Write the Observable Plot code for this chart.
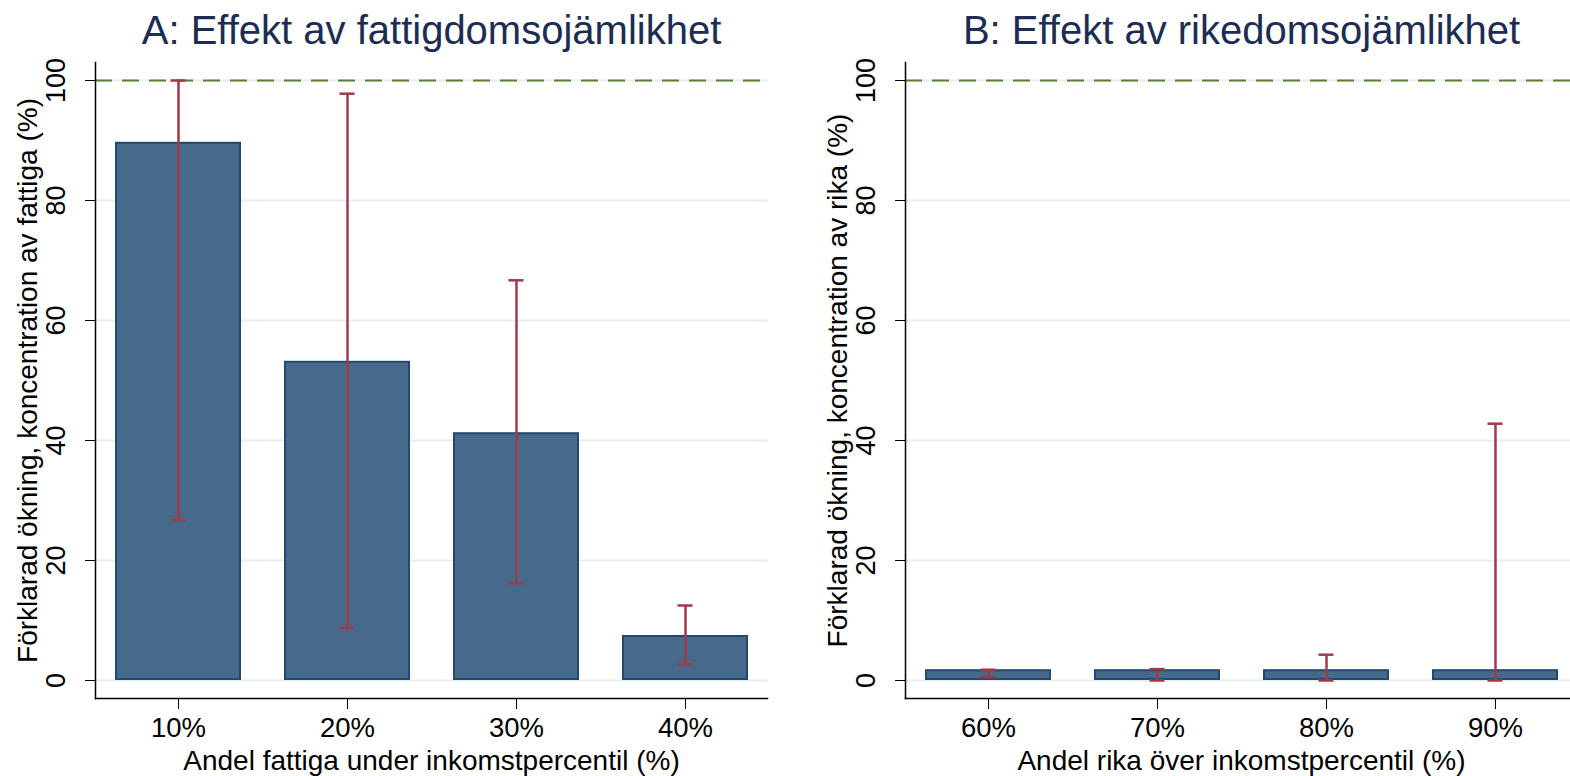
<!DOCTYPE html>
<html>
<head>
<meta charset="utf-8">
<script src="https://cdn.jsdelivr.net/npm/d3@7"></script>
<script src="https://cdn.jsdelivr.net/npm/@observablehq/plot@0.6"></script>
<style>
  html, body { margin: 0; padding: 0; background: #fff; }
  #wrap { display: flex; flex-wrap: nowrap; width: 1570px; height: 776px; overflow: hidden; }
  #wrap > * { flex-shrink: 0; }
</style>
</head>
<body>
<div id="wrap"></div>
<script>
// Panel A data
const titleA = "A: Effekt av fattigdomsojämlikhet";
const yLabelA = "Förklarad ökning, koncentration av fattiga (%)";
const xLabelA = "Andel fattiga under inkomstpercentil (%)";
const categoriesA = ["10%", "20%", "30%", "40%"];
const valuesA = [89.7, 53.2, 41.3, 7.5];
const lowA = [26.7, 8.7, 16.2, 2.7];
const highA = [100, 97.8, 66.7, 12.5];

// Panel B data
const titleB = "B: Effekt av rikedomsojämlikhet";
const yLabelB = "Förklarad ökning, koncentration av rika (%)";
const xLabelB = "Andel rika över inkomstpercentil (%)";
const categoriesB = ["60%", "70%", "80%", "90%"];
const valuesB = [1.8, 1.8, 1.8, 1.8];
const lowB = [0.6, 0, 0, 0];
const highB = [1.8, 1.9, 4.3, 42.8];

const yTicks = [0, 20, 40, 60, 80, 100];
const referenceLine = [100];

const BAR_FILL = "#476a8b";
const BAR_STROKE = "#1f4a73";
const ERR = "#a03a48";
const GRID = "#e6eef0";
const REF = "#5b7d2f";
const TITLE = "#1c2c55";
const FONT = "'Liberation Sans', Arial, Helvetica, sans-serif";

function panel({title, yLabel, xLabel, categories, values, low, high, width, marginLeft, marginRight}) {
  const rows = categories.map((c, i) => ({cat: c, value: values[i], lo: low[i], hi: high[i]}));
  return Plot.plot({
    width,
    height: 776,
    marginLeft,
    marginRight,
    marginTop: 62,
    marginBottom: 78,
    style: {fontFamily: FONT, fontSize: "27px", color: "#000", background: "#fff"},
    x: {domain: categories, paddingInner: 0.256, paddingOuter: 0.112, label: null},
    y: {domain: [-3, 103], label: null},
    marks: [
      Plot.ruleY(yTicks, {stroke: GRID, strokeWidth: 2}),
      Plot.ruleY(referenceLine, {stroke: REF, strokeWidth: 2, strokeDasharray: "17,10"}),
      Plot.barY(rows, {x: "cat", y: "value", fill: BAR_FILL, stroke: BAR_STROKE, strokeWidth: 2, inset: 1}),
      Plot.ruleX(rows, {x: "cat", y1: "lo", y2: "hi", stroke: ERR, strokeWidth: 2.5}),
      Plot.tickY(rows, {x: "cat", y: "hi", stroke: ERR, strokeWidth: 2.5, insetLeft: 55.5, insetRight: 55.5}),
      Plot.tickY(rows, {x: "cat", y: "lo", stroke: ERR, strokeWidth: 2.5, insetLeft: 55.5, insetRight: 55.5}),
      Plot.frame({anchor: "left", stroke: "#000", strokeWidth: 1.5}),
      Plot.frame({anchor: "bottom", stroke: "#000", strokeWidth: 1.5}),
      Plot.axisY({ticks: yTicks, tickSize: 10, tickFormat: () => "", label: null, stroke: "#000"}),
      Plot.text(yTicks, {y: d => d, text: d => String(d), frameAnchor: "left", dx: -39, rotate: -90, textAnchor: "middle", lineAnchor: "middle", fill: "#000", fontSize: 27}),
      Plot.axisX({tickSize: 11, tickPadding: 8, label: null, fontSize: 27.5, fill: "#000"}),
      Plot.text([yLabel], {text: d => d, frameAnchor: "left", dx: -67, rotate: -90, textAnchor: "middle", lineAnchor: "middle", fill: "#000", fontSize: 28}),
      Plot.text([xLabel], {text: d => d, frameAnchor: "bottom", dy: 63, textAnchor: "middle", lineAnchor: "middle", fill: "#000", fontSize: 28}),
      Plot.text([title], {text: d => d, frameAnchor: "top", dy: -31, textAnchor: "middle", lineAnchor: "middle", fill: TITLE, fontSize: 40})
    ]
  });
}

const wrap = document.getElementById("wrap");
wrap.appendChild(panel({title: titleA, yLabel: yLabelA, xLabel: xLabelA, categories: categoriesA, values: valuesA, low: lowA, high: highA, width: 790, marginLeft: 95, marginRight: 23}));
wrap.appendChild(panel({title: titleB, yLabel: yLabelB, xLabel: xLabelB, categories: categoriesB, values: valuesB, low: lowB, high: highB, width: 790, marginLeft: 115, marginRight: 3}));
</script>
</body>
</html>
